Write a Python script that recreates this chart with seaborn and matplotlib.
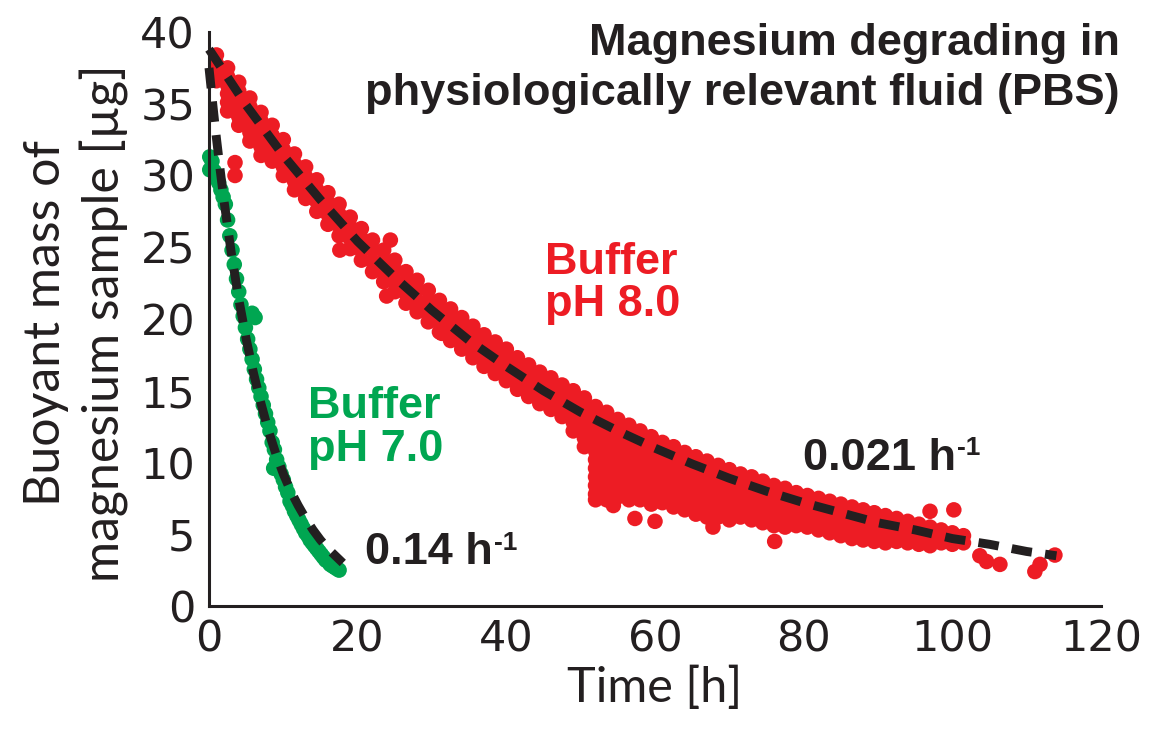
"""
Buoyant mass of magnesium samples degrading in PBS at two pH values,
with exponential decay fits drawn as dashed lines.
"""
import matplotlib
matplotlib.use("Agg")
import matplotlib.pyplot as plt
import seaborn as sns
import pandas as pd

RED = "#ED1C24"
GREEN = "#00A651"
INK = "#231F20"

# pH 8.0 measurements: (time [h], masses [ug] read at that time)
RED_ROWS = [
    (1.0, [38.4, 37.8, 37.2, 36.6]),
    (2.5, [37.5, 36.9, 36.3, 35.7, 35.1, 34.5]),
    (4.0, [36.5, 35.9, 35.3, 34.7, 34.1, 33.5]),
    (5.5, [35.4, 34.8, 34.2, 33.6, 33.0, 32.4]),
    (7.0, [34.4, 33.8, 33.2, 32.6, 32.0, 31.4]),
    (8.5, [33.5, 32.8, 32.2, 31.6, 31.0]),
    (10.0, [32.5, 31.8, 31.2, 30.6, 30.0]),
    (11.5, [31.5, 30.8, 30.2, 29.6, 29.0]),
    (13.0, [30.6, 29.9, 29.1, 28.4]),
    (14.5, [29.7, 29.0, 28.2, 27.5]),
    (16.0, [28.8, 28.1, 27.3, 26.6]),
    (17.5, [28.0, 27.3, 26.5, 25.8]),
    (19.0, [27.1, 26.4, 25.6, 24.9]),
    (20.5, [26.3, 25.6, 24.8, 24.1]),
    (22.0, [25.5, 24.8, 24.0, 23.3]),
    (23.5, [24.8, 24.1, 23.3, 22.6]),
    (25.0, [24.1, 23.4, 22.6, 21.9]),
    (26.5, [23.3, 22.6, 21.8, 21.1]),
    (28.0, [22.7, 22.0, 21.2, 20.5]),
    (29.5, [22.0, 21.3, 20.5, 19.8]),
    (31.0, [21.3, 20.6, 19.8, 19.1]),
    (32.5, [20.7, 20.0, 19.2, 18.5]),
    (34.0, [20.1, 19.4, 18.6, 17.9]),
    (35.5, [19.5, 18.8, 18.0, 17.3]),
    (37.0, [18.9, 18.2, 17.4, 16.7]),
    (38.5, [18.4, 17.7, 16.9, 16.2]),
    (40.0, [17.9, 17.2, 16.4, 15.7]),
    (41.5, [17.3, 16.6, 15.8, 15.1]),
    (43.0, [16.8, 16.1, 15.3, 14.6]),
    (44.5, [16.3, 15.6, 14.8, 14.1]),
    (46.0, [15.9, 15.2, 14.4, 13.7]),
    (47.5, [15.4, 14.7, 13.9, 13.2]),
    (49.0, [15.0, 14.3, 13.5, 12.8, 12.2]),
    (50.5, [14.5, 13.8, 13.0, 12.3, 11.7, 11.1]),
    (52.0, [13.9, 13.2, 12.6, 12.0, 11.4, 10.8, 10.2, 9.6, 9.0, 8.4, 7.8, 7.4]),
    (53.5, [13.5, 12.8, 12.2, 11.6, 11.0, 10.4, 9.8, 9.2, 8.6, 8.0, 7.4]),
    (55.0, [13.0, 12.4, 11.8, 11.2, 10.6, 10.0, 9.4, 8.8, 8.2, 7.6]),
    (56.5, [12.6, 12.0, 11.4, 10.8, 10.2, 9.6, 9.0, 8.4, 7.8, 7.4]),
    (58.0, [12.2, 11.6, 11.0, 10.4, 9.8, 9.2, 8.6, 8.0, 7.4]),
    (59.5, [11.8, 11.2, 10.6, 10.0, 9.4, 8.8, 8.2, 7.6, 7.1]),
    (61.0, [11.4, 10.8, 10.2, 9.6, 9.0, 8.4, 7.8, 7.2]),
    (62.5, [11.1, 10.5, 9.9, 9.3, 8.7, 8.1, 7.5, 6.9]),
    (64.0, [10.7, 10.1, 9.5, 8.9, 8.3, 7.7, 7.1, 6.7]),
    (65.5, [10.4, 9.8, 9.2, 8.6, 8.0, 7.4, 6.8, 6.4]),
    (67.0, [10.1, 9.5, 8.9, 8.3, 7.7, 7.1, 6.5, 6.2]),
    (68.5, [9.8, 9.2, 8.6, 8.0, 7.4, 6.8, 6.2]),
    (70.0, [9.5, 8.9, 8.3, 7.7, 7.1, 6.5, 6.0]),
    (71.5, [9.2, 8.6, 8.0, 7.4, 6.8, 6.2]),
    (73.0, [9.0, 8.4, 7.8, 7.2, 6.6, 6.0]),
    (74.5, [8.7, 8.1, 7.5, 6.9, 6.3, 5.8]),
    (76.0, [8.4, 7.9, 7.3, 6.7, 6.1, 5.6]),
    (77.5, [8.2, 7.6, 7.0, 6.4, 5.8, 5.5]),
    (79.0, [7.9, 7.4, 6.8, 6.2, 5.6]),
    (80.5, [7.7, 7.2, 6.6, 6.0, 5.5]),
    (82.0, [7.5, 6.9, 6.3, 5.8, 5.3]),
    (83.5, [7.3, 6.7, 6.1, 5.6, 5.1]),
    (85.0, [7.1, 6.5, 5.9, 5.4, 4.9]),
    (86.5, [6.9, 6.3, 5.7, 5.2, 4.7]),
    (88.0, [6.7, 6.1, 5.5, 5.0, 4.6]),
    (89.5, [6.5, 5.9, 5.4, 4.9, 4.5]),
    (91.0, [6.3, 5.7, 5.2, 4.7, 4.4]),
    (92.5, [6.1, 5.5, 5.0, 4.5]),
    (94.0, [5.9, 5.3, 4.8, 4.4]),
    (95.5, [5.7, 5.2, 4.7, 4.3]),
    (97.0, [5.5, 5.0, 4.6, 4.2]),
    (98.5, [5.3, 4.8, 4.4]),
    (100.0, [5.1, 4.6, 4.3]),
    (101.5, [4.9, 4.4]),
]
# stray pH 8.0 points sticking out of the main band
RED_STRAY_T = [3.5, 3.5, 17.6, 23.9, 24.4, 31.3, 54.4, 57.3, 60.0, 67.8,
               76.1, 97.0, 100.2, 103.7, 104.6, 106.4, 111.1, 111.8, 113.8]
RED_STRAY_Y = [30.9, 30.0, 24.8, 21.6, 25.5, 19.0, 7.0, 6.1, 5.9, 5.5,
               4.5, 6.6, 6.7, 3.5, 3.1, 2.9, 2.4, 2.9, 3.55]

# pH 7.0 measurements
GREEN_T = [0.1, 0.1, 0.4, 0.7, 1.0, 1.3, 1.6, 1.9, 2.2, 2.5,
           2.8, 3.1, 3.4, 3.7, 4.0, 4.3, 4.6, 4.9, 5.2, 5.5,
           5.8, 5.8, 6.2, 6.1, 6.4, 6.7, 7.0, 7.3, 7.6, 7.9,
           8.2, 8.5, 8.8, 8.7, 9.1, 9.4, 9.7, 10.0, 10.3, 10.6,
           10.9, 11.2, 11.5, 11.8, 12.1, 12.4, 12.7, 13.0, 13.3, 13.6,
           13.9, 14.2, 14.5, 14.8, 15.1, 15.4, 15.7, 16.0, 16.3, 16.6,
           16.9, 17.2, 17.5]
GREEN_Y = [31.3, 30.4, 31.0, 30.3, 29.9, 29.5, 29.0, 28.5, 28.0, 26.9,
           25.8, 24.8, 23.8, 22.8, 21.9, 21.0, 20.2, 19.4, 18.6, 17.9,
           17.2, 20.4, 20.1, 16.5, 15.8, 15.2, 14.6, 14.0, 13.4, 12.8,
           12.2, 11.4, 10.9, 9.6, 10.2, 9.7, 9.2, 8.8, 8.3, 7.9,
           7.3, 7.0, 6.6, 6.3, 6.0, 5.7, 5.4, 5.1, 4.9, 4.6,
           4.4, 4.2, 4.0, 3.8, 3.6, 3.4, 3.2, 3.1, 2.9, 2.8,
           2.7, 2.6, 2.5]

# fitted decay curves (0.021 1/h and 0.14 1/h)
RED_FIT_T = [0, 5, 10, 15, 20, 25, 30, 35, 40, 45, 50, 55,
             60, 65, 70, 75, 80, 85, 90, 95, 100, 105, 110, 114]
RED_FIT_Y = [38.8, 34.9, 31.4, 28.3, 25.4, 22.9, 20.6, 18.5, 16.7, 15.0, 13.5, 12.2,
             11.0, 9.9, 8.9, 8.0, 7.2, 6.5, 5.8, 5.3, 4.7, 4.3, 3.8, 3.5]
GREEN_FIT_T = [0, 0.5, 1, 1.5, 2, 3, 4, 5, 6, 7, 8, 9, 10,
               11, 12, 13, 14, 15, 16, 17, 18]
GREEN_FIT_Y = [37.5, 35.0, 32.6, 30.4, 28.3, 24.6, 21.4, 18.6, 16.2, 14.1, 12.2, 10.6, 9.2,
               8.0, 7.0, 6.1, 5.3, 4.6, 4.0, 3.5, 3.0]

X_TICKS = [0, 20, 40, 60, 80, 100, 120]
Y_TICKS = [0, 5, 10, 15, 20, 25, 30, 35, 40]

W, H = 1163, 730


def red_frame():
    t, y = [], []
    for time, masses in RED_ROWS:
        t += [time] * len(masses)
        y += masses
    t += RED_STRAY_T
    y += RED_STRAY_Y
    return pd.DataFrame({"t": t, "m": y})


def rate_label(ax, x, y, value, bold):
    # value text with a small "-1" superscript hung on its top-right corner
    txt = ax.text(x, y, value + " h", ha="left", va="baseline", color=INK, **bold)
    ax.annotate("-1", xy=(1, 1), xycoords=txt, xytext=(1, 1),
                textcoords="offset points", ha="left", va="top", color=INK,
                family=bold["family"], weight="bold", fontsize=19)


def main():
    sns.set_style("white")
    plt.rcParams["font.family"] = ["DejaVu Sans"]

    fig = plt.figure(figsize=(W / 100, H / 100), dpi=100)
    ax = fig.add_axes([209 / W, 1 - 606 / H, (1101 - 209) / W, (606 - 32) / H])

    red = red_frame()
    green = pd.DataFrame({"t": GREEN_T, "m": GREEN_Y})
    dot = dict(s=125, linewidth=0, edgecolor="none", clip_on=False, legend=False)
    sns.scatterplot(data=red, x="t", y="m", color=RED, ax=ax, zorder=2, **dot)
    sns.scatterplot(data=green, x="t", y="m", color=GREEN, ax=ax, zorder=2, **dot)

    for ft, fy in [(RED_FIT_T, RED_FIT_Y), (GREEN_FIT_T, GREEN_FIT_Y)]:
        sns.lineplot(x=ft, y=fy, color=INK, lw=6.4, ax=ax, sort=False,
                     estimator=None, zorder=3)
        ln = ax.lines[-1]
        ln.set_dashes((2.3, 1.5))
        ln.set_dash_capstyle("butt")
        ln.set_clip_on(False)

    ax.set_xlim(0, 120)
    ax.set_ylim(0, 40)
    ax.set_xticks(X_TICKS)
    ax.set_yticks(Y_TICKS)
    ax.set_xlabel("")
    ax.set_ylabel("")
    for side in ["top", "right"]:
        ax.spines[side].set_visible(False)
    for side in ["left", "bottom"]:
        ax.spines[side].set_linewidth(2.2)
        ax.spines[side].set_color(INK)
    ax.tick_params(direction="in", length=7, width=1.5, color=INK,
                   labelsize=31, labelcolor=INK)
    ax.tick_params(axis="x", pad=9)
    ax.tick_params(axis="y", pad=10)

    fig.text(655 / W, 1 - 666 / H, "Time [h]", ha="center", va="top",
             fontsize=35, family="Lato", color=INK)
    fig.text(76 / W, 1 - 323 / H, "Buoyant mass of\nmagnesium sample [\u00b5g]",
             rotation=90, ha="center", va="center", multialignment="center",
             fontsize=36, family="Lato", color=INK, linespacing=1.3)

    bold = dict(family="Liberation Sans", weight="bold", fontsize=32.5)
    fig.text(1120 / W, 1 - 23 / H,
             "Magnesium degrading in\nphysiologically relevant fluid (PBS)",
             ha="right", va="top", multialignment="right", color=INK,
             linespacing=1.27, **bold)
    ax.text(45.2, 25.4, "Buffer\npH 8.0", ha="left", va="top", color=RED,
            linespacing=1.05, **bold)
    ax.text(13.3, 15.3, "Buffer\npH 7.0", ha="left", va="top", color=GREEN,
            linespacing=1.05, **bold)
    rate_label(ax, 21.0, 2.9, "0.14", bold)
    rate_label(ax, 79.9, 9.5, "0.021", bold)

    fig.savefig("out.png", dpi=100, facecolor="white")


if __name__ == "__main__":
    main()
